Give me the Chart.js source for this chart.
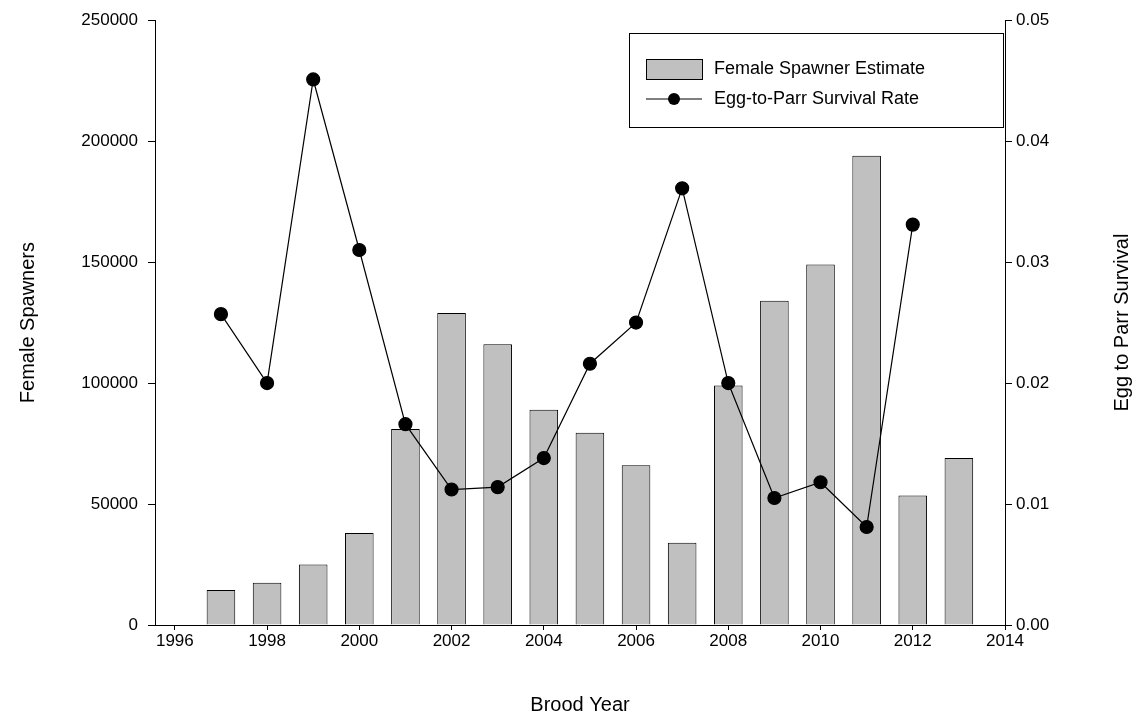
<!DOCTYPE html>
<html><head><meta charset="utf-8">
<script src="https://cdn.jsdelivr.net/npm/chart.js@4/dist/chart.umd.min.js"></script>
<style>html,body{margin:0;padding:0;background:#fff}#w{width:1146px;height:728px}</style>
</head><body><div id="w"><canvas id="c"></canvas></div>
<script>
const barYears=[1997,1998,1999,2000,2001,2002,2003,2004,2005,2006,2007,2008,2009,2010,2011,2012,2013];
const spawners=[14500,17500,25000,38000,81000,129000,116000,89000,79500,66000,34000,99000,134000,149000,194000,53500,69000];
const lineYears=[1997,1998,1999,2000,2001,2002,2003,2004,2005,2006,2007,2008,2009,2010,2011,2012];
const survival=[0.0257,0.0200,0.0451,0.0310,0.0166,0.0112,0.0114,0.0138,0.0216,0.0250,0.0361,0.0200,0.0105,0.0118,0.0081,0.0331];
const F="'Liberation Sans', Arial, sans-serif";
const deco={id:'deco',afterDraw(ch){
 const c=ch.ctx,a=ch.chartArea;c.save();c.fillStyle='#000';c.font='20px '+F;c.textAlign='center';c.textBaseline='middle';
 c.fillText('Brood Year',(a.left+a.right)/2,705);
 c.save();c.translate(28,(a.top+a.bottom)/2);c.rotate(-Math.PI/2);c.fillText('Female Spawners',0,0);c.restore();
 c.save();c.translate(1122,(a.top+a.bottom)/2);c.rotate(-Math.PI/2);c.fillText('Egg to Parr Survival',0,0);c.restore();
 c.strokeStyle='#000';c.lineWidth=1;c.strokeRect(629.5,33.5,374,94);
 c.fillStyle='#c0c0c0';c.fillRect(646,59,56,20);c.strokeRect(646.5,59.5,56,20);
 c.beginPath();c.moveTo(646,99);c.lineTo(702,99);c.stroke();
 c.fillStyle='#000';c.beginPath();c.arc(674,99,6,0,Math.PI*2);c.fill();
 c.font='18px '+F;c.textAlign='left';c.fillText('Female Spawner Estimate',714,69);c.fillText('Egg-to-Parr Survival Rate',714,99);
 c.restore();}};
const gridOpt={display:true,offset:false,drawOnChartArea:false,drawTicks:true,tickLength:7,tickColor:'#000',color:'#000'};
new Chart(document.getElementById('c'),{
 data:{datasets:[
  {type:'line',yAxisID:'y2',data:lineYears.map((x,i)=>({x,y:survival[i]})),borderColor:'#000',borderWidth:1.2,backgroundColor:'#000',pointRadius:6.5,pointHoverRadius:6.5,tension:0,order:0},
  {type:'bar',yAxisID:'y',data:barYears.map((x,i)=>({x,y:spawners[i]})),backgroundColor:'#c0c0c0',borderColor:'#000',borderWidth:1,barPercentage:0.62,categoryPercentage:1,order:1}
 ]},
 options:{responsive:true,maintainAspectRatio:false,animation:false,
  layout:{padding:{top:16,bottom:0,left:0,right:0}},
  plugins:{legend:{display:false},tooltip:{enabled:false}},
  scales:{
   x:{type:'linear',offset:false,min:1995.57,max:2014,afterBuildTicks(s){s.ticks=[1996,1998,2000,2002,2004,2006,2008,2010,2012,2014].map(v=>({value:v}));},
      afterFit(s){s.height=103;},grid:{...gridOpt,tickLength:5},border:{color:'#000'},
      ticks:{color:'#000',font:{family:F,size:17},padding:1,maxRotation:0,callback:v=>String(v)}},
   y:{position:'left',min:0,max:250000,afterFit(s){s.width=155;},grid:gridOpt,border:{color:'#000'},
      ticks:{stepSize:50000,color:'#000',font:{family:F,size:17},padding:10,callback:v=>String(v)}},
   y2:{position:'right',min:0,max:0.05,afterFit(s){s.width=141;},grid:gridOpt,border:{color:'#000'},
      ticks:{stepSize:0.01,color:'#000',font:{family:F,size:17},padding:4,callback:v=>v.toFixed(2)}}
  }},
 plugins:[deco]});
</script></body></html>
